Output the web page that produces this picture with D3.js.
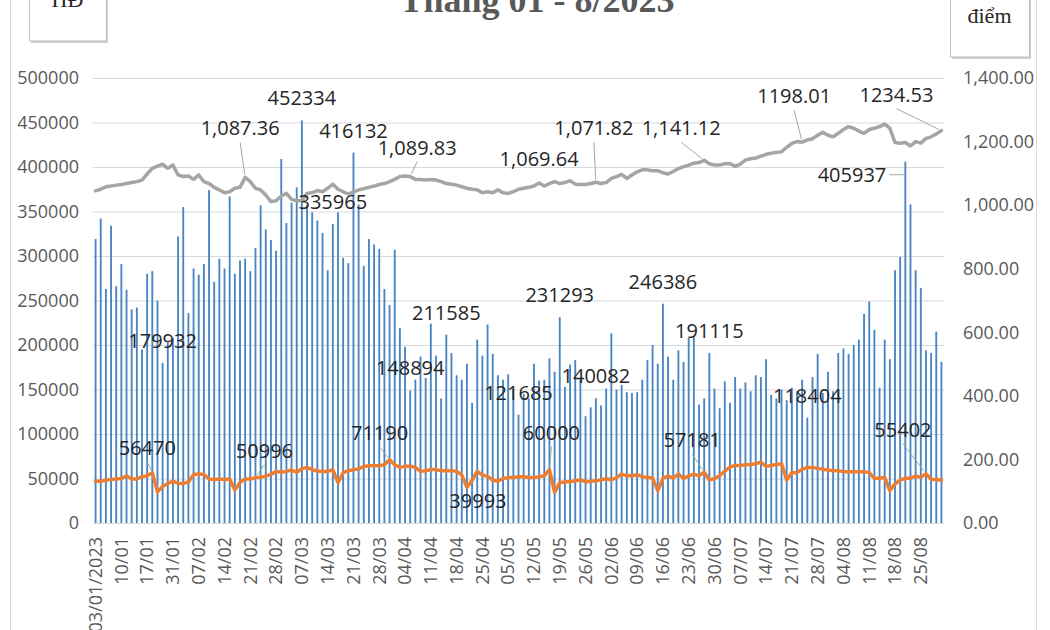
<!DOCTYPE html>
<html>
<head>
<meta charset="utf-8">
<script src="https://cdn.jsdelivr.net/npm/d3@7"></script>
<style>
  body { margin: 0; background: #fff; }
  svg { display: block; }
</style>
</head>
<body>
<div id="chart"></div>
<script>
// Tick labels, one every 5 trading days
const tickLabels = ["03/01/2023", "10/01", "17/01", "31/01", "07/02", "14/02", "21/02", "28/02",
  "07/03", "14/03", "21/03", "28/03", "04/04", "11/04", "18/04", "25/04", "05/05", "12/05",
  "19/05", "26/05", "02/06", "09/06", "16/06", "23/06", "30/06", "07/07", "14/07", "21/07",
  "28/07", "04/08", "11/08", "18/08", "25/08"];
const tickStep = 5;

// Daily traded contracts (HĐ) - bars, left axis
const contracts = [
  319000, 342000, 263000, 334000, 266000, 291000, 262000, 240000, 242000, 195000,
  280000, 283000, 250000, 179932, 203000, 208000, 322000, 355000, 236000, 286000,
  279000, 291000, 374000, 271000, 297000, 286000, 367000, 280000, 295000, 297000,
  283000, 309000, 357000, 330000, 318000, 306000, 409000, 337000, 360000, 377000,
  452334, 357000, 349000, 340000, 326000, 284000, 335965, 349000, 298000, 292000,
  416132, 358000, 289000, 319000, 313000, 308000, 263000, 245000, 307000, 219000,
  198000, 148894, 161000, 187000, 163000, 224000, 188000, 140000, 211585, 191000,
  166000, 161000, 179000, 135000, 206000, 188000, 223000, 190000, 166000, 161000,
  167000, 150000, 121685, 145000, 140000, 179000, 160000, 161000, 185000, 170000,
  231293, 153000, 178000, 183000, 161000, 120000, 130000, 140082, 132000, 151000,
  213000, 150000, 155000, 147000, 146000, 147000, 161000, 183000, 200000, 179000,
  246386, 187000, 161000, 194000, 181000, 208000, 209000, 133000, 140000, 191115,
  151000, 129000, 159000, 135000, 164000, 151000, 158000, 148000, 166000, 164000,
  184000, 144000, 140000, 150000, 138000, 152000, 148000, 161000, 118404, 164000,
  190000, 146000, 170000, 148000, 191000, 196000, 190000, 200000, 206000, 235000,
  249000, 217000, 152000, 206000, 184000, 284000, 299000, 405937, 358000, 284000,
  264000, 194000, 191000, 215000, 181000];

// Index points - grey line, right axis
const indexPoints = [
  1045, 1050, 1058, 1060, 1063, 1065, 1068, 1071, 1074, 1079,
  1098, 1116, 1123, 1129, 1116, 1126, 1095, 1090, 1092, 1081,
  1095, 1074, 1068, 1056, 1048, 1039, 1042, 1053, 1056, 1087.36,
  1074, 1053, 1048, 1032, 1011, 1014, 1029, 1037, 1018, 1014,
  1014, 1037, 1039, 1046, 1042, 1053, 1066, 1050, 1042, 1035,
  1042, 1048, 1052, 1056, 1060, 1065, 1068, 1074, 1081, 1090,
  1092, 1089.83, 1081, 1081, 1079, 1081, 1079, 1074, 1068, 1066,
  1063, 1058, 1053, 1050, 1048, 1039, 1042, 1039, 1048, 1039,
  1037, 1042, 1050, 1053, 1056, 1060, 1069.64, 1060, 1068, 1074,
  1068, 1071, 1077, 1066, 1065, 1065, 1068, 1071.82, 1068, 1071,
  1084, 1090, 1097, 1084, 1095, 1105, 1111, 1111, 1108, 1108,
  1102, 1098, 1106, 1115, 1121, 1126, 1132, 1134, 1141.12, 1130,
  1126, 1126, 1130, 1131, 1122, 1129, 1142, 1146, 1148, 1154,
  1160, 1163, 1166, 1168, 1182, 1194, 1200, 1198.01, 1205, 1209,
  1220, 1229, 1220, 1215, 1226, 1238, 1247, 1242, 1233, 1226,
  1238, 1242, 1247, 1255, 1242, 1197, 1195, 1197, 1186, 1200,
  1195, 1210, 1215, 1224, 1234.53];

// Open interest - orange line, left axis
const openInterest = [
  47000, 47000, 48000, 49000, 49500, 50000, 53000, 49500, 49500, 52000,
  53000, 56470, 35000, 41000, 44500, 47000, 44500, 44500, 46000, 54600,
  55000, 54600, 49500, 49000, 49500, 49000, 49500, 37000, 45600, 49500,
  49500, 50996, 51300, 52700, 54600, 58000, 57000, 58000, 59500, 57000,
  61000, 62500, 59900, 58400, 58000, 58000, 59900, 45300, 56500, 58800,
  60000, 60600, 63600, 64300, 64300, 64300, 65400, 71190, 65400, 62500,
  63600, 64000, 62500, 58000, 58800, 60000, 60000, 58800, 58800, 58800,
  58000, 54000, 39993, 48000, 58000, 54000, 52400, 48300, 47000, 50000,
  51000, 51100, 52000, 52000, 51100, 51000, 52000, 53000, 60000, 34400,
  45300, 46400, 46400, 47500, 48300, 46400, 47000, 47500, 48300, 50000,
  48300, 51000, 55000, 53000, 53000, 54300, 52000, 51000, 50500, 36300,
  50000, 53000, 50500, 55000, 50000, 53000, 55000, 53000, 57181, 48300,
  50000, 53000, 58400, 62900, 64700, 64700, 65400, 65800, 66600, 68400,
  63600, 64700, 65800, 66600, 48300, 56600, 56600, 60300, 62500, 62500,
  61400, 60300, 59500, 58800, 58800, 57700, 57700, 57700, 57700, 57700,
  56600, 50200, 50200, 51300, 36300, 43800, 48300, 50200, 50200, 52800,
  51300, 55402, 49000, 49000, 48300];

const leftTicks = [0, 50000, 100000, 150000, 200000, 250000, 300000, 350000, 400000, 450000, 500000];
const rightTicks = [0, 200, 400, 600, 800, 1000, 1200, 1400];

// Labelled points: index into the series
const barLabelIdx = [13, 40, 46, 50, 61, 68, 82, 90, 97, 110, 119, 138];
const indexLabels = [
  { i: 29, fmt: ",.2f", dx: -5, dy: -42, leader: true },
  { i: 61, fmt: ",.2f", dx: 7, dy: -22, leader: true },
  { i: 86, fmt: ",.2f", dx: 0, dy: -17, leader: false },
  { i: 97, fmt: ",.2f", dx: -2, dy: -47, leader: true },
  { i: 118, fmt: ",.2f", dx: -23, dy: -25, leader: true },
  { i: 137, fmt: ".2f", dx: -8, dy: -39, leader: true },
  { i: 164, fmt: ".2f", dx: -45, dy: -29, leader: true }
];
const oiLabels = [
  { i: 11, dx: -5, dy: -18, leader: true },
  { i: 31, dx: 9, dy: -20, leader: true },
  { i: 57, dx: -10, dy: -20, leader: true },
  { i: 72, dx: 11, dy: 21, leader: false },
  { i: 88, dx: 2, dy: -30, leader: true },
  { i: 118, dx: -12, dy: -25, leader: true },
  { i: 161, dx: -23, dy: -37, leader: true }
];

const W = 1050, H = 630;
const plotL = 93, plotR = 944, plotT = 78, plotB = 523;
const font = "'Open Sans', 'Noto Sans', sans-serif";
const serif = "'Liberation Serif', 'DejaVu Serif', serif";

const svg = d3.select("#chart").append("svg")
  .attr("width", W).attr("height", H);

// Chart border
svg.append("rect")
  .attr("x", 10.5).attr("y", -5).attr("width", 1026).attr("height", 650)
  .attr("fill", "none").attr("stroke", "#d9d9d9");

const n = contracts.length;
const x = d3.scaleBand().domain(d3.range(n)).range([plotL, plotR]).paddingInner(0.64).paddingOuter(0.32);
const cx = i => x(i) + x.bandwidth() / 2;
const yL = d3.scaleLinear().domain([0, 500000]).range([plotB, plotT]);
const yR = d3.scaleLinear().domain([0, 1400]).range([plotB, plotT]);

// Gridlines + left axis
const gL = svg.append("g").attr("transform", `translate(${plotL},0)`)
  .call(d3.axisLeft(yL).tickValues(leftTicks).tickSize(-(plotR - plotL)).tickPadding(14).tickFormat(d3.format("d")));
gL.select(".domain").remove();
gL.selectAll(".tick line").attr("stroke", "#d9d9d9").attr("stroke-width", 1);
gL.selectAll(".tick text").attr("fill", "#595959").style("font-family", font).style("font-size", "18px");

// Right axis
const gR = svg.append("g").attr("transform", `translate(${plotR},0)`)
  .call(d3.axisRight(yR).tickValues(rightTicks).tickSize(0).tickPadding(19).tickFormat(d3.format(",.2f")));
gR.select(".domain").remove();
gR.selectAll(".tick text").attr("fill", "#595959").style("font-family", font).style("font-size", "18px");

// Bottom axis
const tickIdx = tickLabels.map((_, j) => j * tickStep);
const gX = svg.append("g").attr("transform", `translate(0,${plotB})`)
  .call(d3.axisBottom(x).tickValues(tickIdx).tickSize(0).tickFormat((d, j) => tickLabels[j]));
gX.select(".domain").attr("stroke", "#d9d9d9");
gX.selectAll(".tick text")
  .attr("transform", "rotate(-90)")
  .attr("x", -14).attr("y", 0).attr("dy", "0.35em")
  .style("text-anchor", "end")
  .attr("fill", "#595959").style("font-family", font).style("font-size", "18px");

// Bars
svg.append("g").selectAll("rect")
  .data(contracts)
  .join("rect")
  .attr("x", (d, i) => x(i))
  .attr("y", d => yL(d))
  .attr("width", x.bandwidth())
  .attr("height", d => plotB - yL(d))
  .attr("fill", "#4a85c3");

// Lines
const greyLine = d3.line().x((d, i) => cx(i)).y(d => yR(d));
svg.append("path").datum(indexPoints)
  .attr("d", greyLine).attr("fill", "none")
  .attr("stroke", "#a5a5a5").attr("stroke-width", 3.5)
  .attr("stroke-linejoin", "round").attr("stroke-linecap", "round");

const orangeLine = d3.line().x((d, i) => cx(i)).y(d => yL(d));
svg.append("path").datum(openInterest)
  .attr("d", orangeLine).attr("fill", "none")
  .attr("stroke", "#ed7d31").attr("stroke-width", 3.5)
  .attr("stroke-linejoin", "round").attr("stroke-linecap", "round");

// Data labels
const lab = svg.append("g")
  .style("font-family", font).style("font-size", "20px").attr("fill", "#262626");

barLabelIdx.forEach(i => {
  lab.append("text").attr("x", cx(i)).attr("y", yL(contracts[i]) - 15)
    .attr("text-anchor", "middle").text(contracts[i]);
});

// The Aug peak bar has its label on the left with a short leader
const peak = 157;
lab.append("text").attr("x", cx(peak) - 19).attr("y", yL(contracts[peak]) + 20)
  .attr("text-anchor", "end").text(contracts[peak]);
svg.append("line")
  .attr("x1", cx(peak) - 16).attr("x2", cx(peak) - 1)
  .attr("y1", yL(contracts[peak]) + 13).attr("y2", yL(contracts[peak]) + 13)
  .attr("stroke", "#a6a6a6").attr("stroke-width", 1);

function addNote(px, py, note, text, leaderColor) {
  const tx = px + note.dx, ty = py + note.dy;
  lab.append("text").attr("x", tx).attr("y", ty).attr("text-anchor", "middle").text(text);
  if (note.leader) {
    const sx = tx, sy = ty + 7;
    const len = Math.hypot(px - sx, py - sy);
    const k = Math.max(0, (len - 3) / len);
    svg.append("line")
      .attr("x1", sx).attr("y1", sy)
      .attr("x2", sx + (px - sx) * k).attr("y2", sy + (py - sy) * k)
      .attr("stroke", leaderColor).attr("stroke-width", 1);
  }
}

indexLabels.forEach(note => {
  addNote(cx(note.i), yR(indexPoints[note.i]), note, d3.format(note.fmt)(indexPoints[note.i]), "#a6a6a6");
});
oiLabels.forEach(note => {
  addNote(cx(note.i), yL(openInterest[note.i]), note, openInterest[note.i], "#8fb58f");
});

// Title and unit boxes
svg.append("text").attr("x", 537).attr("y", 12).attr("text-anchor", "middle")
  .style("font-family", serif).style("font-size", "36px").style("font-weight", "bold")
  .attr("fill", "#595959").text("Tháng 01 - 8/2023");

function unitBox(bx, bw, bh, label, ty) {
  svg.append("rect").attr("x", bx + 2).attr("y", -10).attr("width", bw).attr("height", bh + 12)
    .attr("fill", "#d0d0d0");
  svg.append("rect").attr("x", bx + 0.5).attr("y", -10).attr("width", bw).attr("height", bh + 10)
    .attr("fill", "#fff").attr("stroke", "#bfbfbf");
  svg.append("text").attr("x", bx + bw / 2).attr("y", ty).attr("text-anchor", "middle")
    .style("font-family", serif).style("font-size", "22px").attr("fill", "#262626").text(label);
}
unitBox(29, 77, 41, "HĐ", 7);
unitBox(950, 79, 57, "điểm", 23);
</script>
</body>
</html>
